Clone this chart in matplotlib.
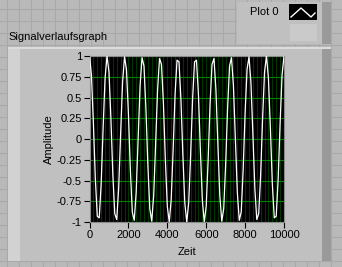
import numpy as np
import matplotlib.pyplot as plt
from matplotlib.patches import Rectangle

W, H = 342, 267

# sampled waveform (Zeit step 100, 101 samples)
zeit = list(range(0, 10001, 100))
amplitude = [
    1.00, 0.77, 0.19, -0.48, -0.93, -0.95, -0.54, 0.13, 0.73, 1.00,
    0.81, 0.25, -0.43, -0.90, -0.97, -0.59, 0.06, 0.68, 0.99, 0.84,
    0.31, -0.37, -0.88, -0.98, -0.64, 0.00, 0.64, 0.98, 0.88, 0.37,
    -0.31, -0.84, -0.99, -0.68, -0.06, 0.59, 0.97, 0.90, 0.43, -0.25,
    -0.81, -1.00, -0.73, -0.13, 0.54, 0.95, 0.93, 0.48, -0.19, -0.77,
    -1.00, -0.77, -0.19, 0.48, 0.93, 0.95, 0.54, -0.13, -0.73, -1.00,
    -0.81, -0.25, 0.43, 0.90, 0.97, 0.59, -0.06, -0.68, -0.99, -0.84,
    -0.31, 0.37, 0.88, 0.98, 0.64, 0.00, -0.64, -0.98, -0.88, -0.37,
    0.31, 0.84, 0.99, 0.68, 0.06, -0.59, -0.97, -0.90, -0.43, 0.25,
    0.81, 1.00, 0.73, 0.13, -0.54, -0.95, -0.93, -0.48, 0.19, 0.77,
    1.00,
]
y_ticks = [-1, -0.75, -0.5, -0.25, 0, 0.25, 0.5, 0.75, 1]
y_labels = ['-1', '-0.75', '-0.5', '-0.25', '0', '0.25', '0.5', '0.75', '1']
x_ticks = [0, 2000, 4000, 6000, 8000, 10000]

plt.rcParams['font.family'] = ['Liberation Sans', 'DejaVu Sans']
fs = 8
fig = plt.figure(figsize=(W / 100, H / 100), dpi=100)
fig.patch.set_facecolor('#b9b9b9')


def px_rect(x, y, w, h, color, z=0):
    # rectangle in pixel coords, y from top
    fig.patches.append(Rectangle((x / W, 1 - (y + h) / H), w / W, h / H,
                                 transform=fig.transFigure, facecolor=color,
                                 edgecolor='none', zorder=z))


# panel grid
for gx in range(7, W, 12):
    fig.add_artist(plt.Line2D([gx / W, gx / W], [0, 1], color='#a9a9a9', lw=0.8, zorder=0))
for gy in range(9, H, 12):
    fig.add_artist(plt.Line2D([0, 1], [1 - gy / H, 1 - gy / H], color='#a9a9a9', lw=0.8, zorder=0))

# graph frame
px_rect(8, 47, 323, 214, '#c0c0c0', 1)
px_rect(8, 47, 12, 214, '#d2d2d2', 1)
px_rect(322, 47, 9, 214, '#9a9a9a', 1)
px_rect(8, 47, 323, 2, '#dcdcdc', 1)

# legend box
px_rect(237, 2, 94, 42, '#c0c0c0', 1)
px_rect(322, 2, 9, 42, '#9a9a9a', 1)
px_rect(289, 4, 28, 16, '#000000', 2)
px_rect(290, 24, 27, 17, '#cacaca', 2)
fig.add_artist(plt.Line2D([291 / W, 301 / W, 311 / W, 315 / W],
                          [1 - 17 / H, 1 - 8 / H, 1 - 17 / H, 1 - 13 / H],
                          color='white', lw=1, zorder=3))
fig.text(250 / W, 1 - 12 / H, 'Plot 0', fontsize=fs, va='center', ha='left', zorder=3)
fig.text(8 / W, 1 - 37 / H, 'Signalverlaufsgraph', fontsize=fs, va='center', ha='left', zorder=3)

ax = fig.add_axes([89.5 / W, 1 - 222 / H, (284 - 89.5) / W, (222 - 56) / H])
ax.set_zorder(5)
ax.set_facecolor('black')
for v in range(0, 10001, 200):
    ax.axvline(v, color='#004000', lw=0.6, zorder=1)
for v in y_ticks:
    ax.axhline(v, color='#008000', lw=0.8, zorder=1)
ax.plot(zeit, amplitude, color='white', lw=0.9, zorder=3)
ax.set_xlim(0, 10000)
ax.set_ylim(-1, 1)
ax.set_yticks(y_ticks)
ax.set_yticklabels(y_labels)
ax.set_xticks(x_ticks)
ax.tick_params(labelsize=fs, length=4, width=0.8, color='black', pad=1.5)
for s in ax.spines.values():
    s.set_color('#8a8a8a')
ax.set_xlabel('Zeit', fontsize=fs, labelpad=5)
ax.set_ylabel('Amplitude', fontsize=fs, labelpad=2)

fig.savefig('out.png', dpi=100, facecolor=fig.get_facecolor())
